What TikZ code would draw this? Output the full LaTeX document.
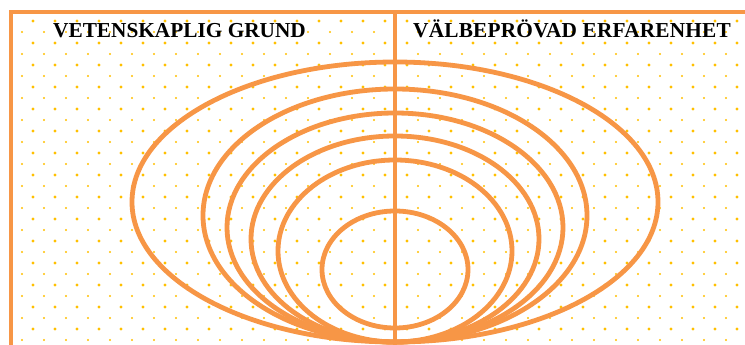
\documentclass[tikz,border=0pt]{standalone}
\usepackage{fontspec}
\setmainfont{Liberation Serif}
\definecolor{lineorange}{HTML}{F79646}
\definecolor{dotgold}{HTML}{FFC000}
\begin{document}
\begin{tikzpicture}[x=1pt,y=-1pt,
  ring/.style={draw=lineorange,line width=4.8pt},
  frameline/.style={draw=lineorange,line width=4.8pt},
  bigdot/.style={fill=dotgold},
  title/.style={font=\bfseries\fontsize{21.3}{21.3}\selectfont,anchor=base west,inner sep=0pt,text=black}]
\useasboundingbox (0,0) rectangle (745,345);
\fill[white] (0,0) rectangle (745,345);
% dotted background
\begin{scope}
\clip (11,12) rectangle (745,345);
\foreach \j in {0,...,15}{
  \foreach \i in {0,...,34}{
    \fill[bigdot] (11+22*\i,21+22*\j) circle (1.6pt);
    \fill[bigdot] (22+22*\i,32+22*\j) circle (1.2pt);
  }
}
\end{scope}
% ellipses
\draw[ring] (395,202) ellipse [x radius=263pt, y radius=140pt];
\draw[ring] (395,215.5) ellipse [x radius=192pt, y radius=126.5pt];
\draw[ring] (395,227.5) ellipse [x radius=168pt, y radius=114.5pt];
\draw[ring] (395,239) ellipse [x radius=144pt, y radius=103pt];
\draw[ring] (395,251) ellipse [x radius=117pt, y radius=91pt];
\draw[ring] (395,269.5) ellipse [x radius=73pt, y radius=58.5pt];
% frame
\coordinate (tl) at (11,12);
\coordinate (tr) at (745,12);
\coordinate (bl) at (11,345);
\coordinate (mt) at (395,12);
\coordinate (mb) at (395,345);
\draw[frameline] (bl) -- (tl) -- (tr);
\draw[frameline] (mt) -- (mb);
% titles
\node[title] (left) at (53,38) {VETENSKAPLIG GRUND};
\node[title,font=\bfseries\fontsize{21.3}{21.3}\selectfont\addfontfeature{LetterSpace=1}] (right) at (413,38) {VÄLBEPRÖVAD ERFARENHET};
\end{tikzpicture}
\end{document}
